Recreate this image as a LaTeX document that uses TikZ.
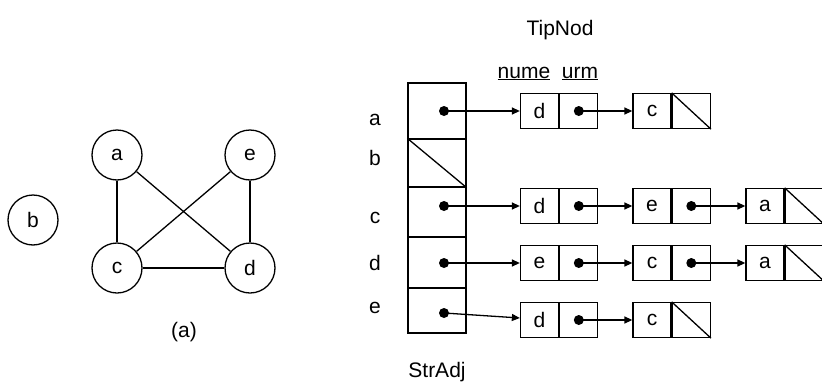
\documentclass[tikz,border=0pt]{standalone}
\usepackage{fontspec}
\setmainfont{Liberation Sans}
\usetikzlibrary{arrows.meta,positioning}
\tikzset{
  vtx/.style={circle, draw, line width=1.3pt, minimum size=50pt, inner sep=0pt, font=\fontsize{21}{24}\selectfont},
  lbl/.style={inner sep=0pt, anchor=base, font=\fontsize{21}{24}\selectfont},
  slot/.style={rectangle, draw, line width=1.3pt, minimum width=58pt, inner sep=0pt},
  val/.style={rectangle, draw, line width=1.3pt, minimum width=38pt, minimum height=35pt, inner sep=0pt, font=\fontsize{21}{24}\selectfont},
  ptr/.style={val},
  ptrdot/.style={circle, fill, inner sep=0pt, minimum size=10pt},
  arr/.style={-{Triangle[length=8pt,width=7pt]}, line width=1.3pt},
  link/.style={line width=1.3pt}
}
\begin{document}
\begin{tikzpicture}[x=1pt, y=-1pt]
\useasboundingbox (0,0) rectangle (822,383);

% graph
\node[vtx] (b) at (33,220) {b};
\node[vtx] (a) at (117,155) {a};
\node[vtx] (e) at (250,155) {e};
\node[vtx] (c) at (117,268) {c};
\node[vtx] (d) at (250,268) {d};
\draw[link] (a) -- (c); \draw[link] (a) -- (d); \draw[link] (e) -- (c);
\draw[link] (e) -- (d); \draw[link] (c) -- (d);
\node[lbl] (cap) at (184,337) {(a)};

% headers
\node[lbl] (tipnod) at (560,35) {TipNod};
\node[lbl] (nume) at (524,78) {\underline{nume}};
\node[lbl] (urm) at (580,78) {\underline{urm}};
\node[lbl] (stradj) at (437,377) {StrAdj};

% adjacency array
\node[slot, minimum height=56pt] (sa) at (437,111) {};
\node[slot, minimum height=48pt] (sb) at (437,163) {};
\node[slot, minimum height=50pt] (sc) at (437,212) {};
\node[slot, minimum height=51pt] (sd) at (437,262.5) {};
\node[slot, minimum height=45pt] (se) at (437,310.5) {};
\draw[link] (sb.north west) -- (sb.south east);

\node[lbl] (la) at (375,125) {a};
\node[lbl] (lb) at (375,165) {b};
\node[lbl] (lc) at (375,223) {c};
\node[lbl] (ld) at (375,270) {d};
\node[lbl] (le) at (375,313) {e};

\node[ptrdot] (da) at (444,111) {};
\node[ptrdot] (dc) at (444,206) {};
\node[ptrdot] (dd) at (444,263) {};
\node[ptrdot] (de) at (444,313) {};

% list of a
\node[val] (a1v) at (539.5,111) {d};
\node[ptr, right=0pt of a1v] (a1p) {};
\node[val] (a2v) at (652,111) {c};
\node[ptr, right=0pt of a2v] (a2p) {};
\node[ptrdot] (a1d) at (a1p) {};
\draw[link] (a2p.north west) -- (a2p.south east);
\draw[arr] (da.center) -- (a1v.west); \draw[arr] (a1d.center) -- (a2v.west);

% list of c
\node[val] (c1v) at (539.5,206) {d};
\node[ptr, right=0pt of c1v] (c1p) {};
\node[val] (c2v) at (652,206) {e};
\node[ptr, right=0pt of c2v] (c2p) {};
\node[val] (c3v) at (765,206) {a};
\node[ptr, right=0pt of c3v] (c3p) {};
\node[ptrdot] (c1d) at (c1p) {};
\node[ptrdot] (c2d) at (c2p) {};
\draw[link] (c3p.north west) -- (c3p.south east);
\draw[arr] (dc.center) -- (c1v.west); \draw[arr] (c1d.center) -- (c2v.west);
\draw[arr] (c2d.center) -- (c3v.west);

% list of d
\node[val] (d1v) at (539.5,263) {e};
\node[ptr, right=0pt of d1v] (d1p) {};
\node[val] (d2v) at (652,263) {c};
\node[ptr, right=0pt of d2v] (d2p) {};
\node[val] (d3v) at (765,263) {a};
\node[ptr, right=0pt of d3v] (d3p) {};
\node[ptrdot] (d1d) at (d1p) {};
\node[ptrdot] (d2d) at (d2p) {};
\draw[link] (d3p.north west) -- (d3p.south east);
\draw[arr] (dd.center) -- (d1v.west); \draw[arr] (d1d.center) -- (d2v.west);
\draw[arr] (d2d.center) -- (d3v.west);

% list of e
\node[val] (e1v) at (539.5,320) {d};
\node[ptr, right=0pt of e1v] (e1p) {};
\node[val] (e2v) at (652,320) {c};
\node[ptr, right=0pt of e2v] (e2p) {};
\node[ptrdot] (e1d) at (e1p) {};
\draw[link] (e2p.north west) -- (e2p.south east);
\draw[arr] (de.center) -- ([yshift=2pt]e1v.west); \draw[arr] (e1d.center) -- (e2v.west);
\end{tikzpicture}
\end{document}
